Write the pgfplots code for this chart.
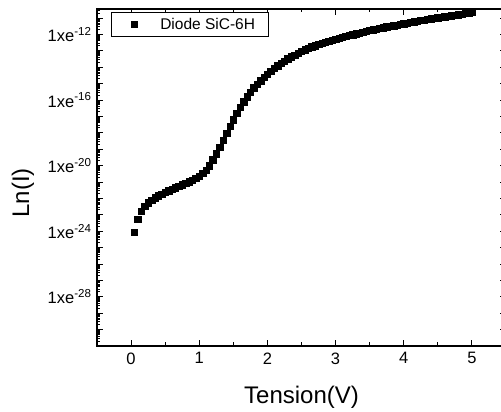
\documentclass[border=0pt]{standalone}
\usepackage{fontspec}
\setmainfont{Liberation Sans}
\usepackage{pgfplots}
\pgfplotsset{compat=1.18}
\usepackage{pgfplotstable}

\pgfplotstableread{
x e
0.05 -24.05
0.10 -23.25
0.15 -22.78
0.20 -22.48
0.25 -22.27
0.30 -22.10
0.35 -21.96
0.40 -21.84
0.45 -21.73
0.50 -21.63
0.55 -21.53
0.60 -21.43
0.65 -21.34
0.70 -21.25
0.75 -21.16
0.80 -21.07
0.85 -20.98
0.90 -20.88
0.95 -20.77
1.00 -20.64
1.05 -20.48
1.10 -20.28
1.15 -20.01
1.20 -19.65
1.25 -19.28
1.30 -18.88
1.35 -18.46
1.40 -18.03
1.45 -17.61
1.50 -17.20
1.55 -16.81
1.60 -16.44
1.65 -16.10
1.70 -15.79
1.75 -15.51
1.80 -15.26
1.85 -15.03
1.90 -14.82
1.95 -14.62
2.00 -14.43
2.05 -14.24
2.10 -14.07
2.15 -13.91
2.20 -13.76
2.25 -13.62
2.30 -13.49
2.35 -13.37
2.40 -13.25
2.45 -13.14
2.50 -13.04
2.55 -12.94
2.60 -12.85
2.65 -12.76
2.70 -12.68
2.75 -12.60
2.80 -12.53
2.85 -12.46
2.90 -12.40
2.95 -12.34
3.00 -12.28
3.05 -12.22
3.10 -12.17
3.15 -12.11
3.20 -12.06
3.25 -12.01
3.30 -11.96
3.35 -11.91
3.40 -11.86
3.45 -11.81
3.50 -11.76
3.55 -11.72
3.60 -11.67
3.65 -11.63
3.70 -11.58
3.75 -11.54
3.80 -11.50
3.85 -11.46
3.90 -11.42
3.95 -11.38
4.00 -11.34
4.05 -11.30
4.10 -11.26
4.15 -11.23
4.20 -11.19
4.25 -11.15
4.30 -11.12
4.35 -11.08
4.40 -11.05
4.45 -11.02
4.50 -10.98
4.55 -10.95
4.60 -10.92
4.65 -10.89
4.70 -10.86
4.75 -10.83
4.80 -10.79
4.85 -10.76
4.90 -10.72
4.95 -10.68
5.00 -10.64
}\diode

\def\myminor{-30.69897}
\foreach \e in {-31,...,-11}{%
  \foreach \m in {0.30103,0.47712,0.60206,0.69897,0.77815,0.84510,0.90309,0.95424}{%
    \pgfmathsetmacro\v{\e+\m}%
    \xdef\myminor{\myminor,\v}%
  }%
}

\begin{document}
\begin{tikzpicture}
\begin{axis}[name=ax, scale only axis, width=409pt, height=337pt,
  xmin=-0.5, xmax=5.5, ymin=-31, ymax=-10.45,
  xtick={0,...,5}, minor x tick num=1,
  ytick={-31,...,-11},
  yticklabels={{},{},{},1xe\textsuperscript{-28},{},{},{},1xe\textsuperscript{-24},{},{},{},1xe\textsuperscript{-20},{},{},{},1xe\textsuperscript{-16},{},{},{},1xe\textsuperscript{-12},{}},
  minor ytick/.expanded={\myminor},
  tick align=inside,
  major tick length=6pt, minor tick length=3.5pt,
  every tick/.style={black, line width=0.9pt},
  axis line style={line width=1.2pt},
  /pgf/number format/assume math mode=true,
  tick label style={font=\fontsize{16.5}{19}\selectfont},
  xticklabel style={yshift=-3pt},
  yticklabel style={xshift=-2pt},
  xlabel={Tension(V)},
  ylabel={Ln(I)},
  every axis x label/.style={at={(rel axis cs:0.5,0)}, anchor=base, yshift=-58pt, font=\fontsize{24}{28}\selectfont},
  every axis y label/.style={at={(rel axis cs:0,0.454)}, anchor=center, xshift=-74pt, rotate=90, font=\fontsize{24}{28}\selectfont},
  legend style={at={(0.0342,0.991)}, anchor=north west, draw=black, line width=0.6pt,
    font=\fontsize{15.5}{18}\selectfont, inner xsep=11pt, inner ysep=3.5pt},
  legend image code/.code={\path[draw=none] (-12pt,0pt) -- (24pt,0pt); \draw plot[only marks] coordinates {(0pt,0pt)};},
  legend cell align=left,
]
\addplot[only marks, mark=square*, mark size=3.2pt, black] table[x=x, y=e] {\diode};
\addlegendentry{Diode SiC-6H}
\end{axis}
\pgfresetboundingbox
\path[use as bounding box] ([xshift=-97pt,yshift=-66pt]ax.south west) rectangle ([xshift=404pt,yshift=346pt]ax.south west);
\end{tikzpicture}
\end{document}
